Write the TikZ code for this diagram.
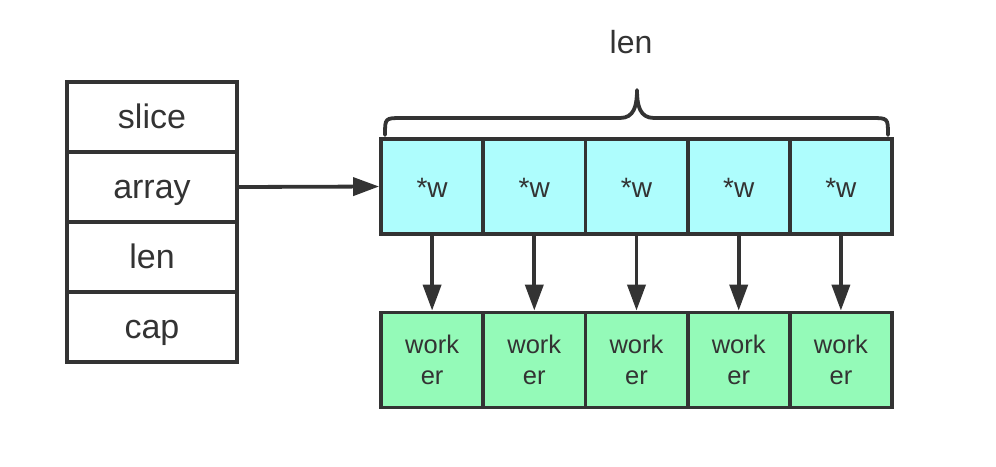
\documentclass[tikz,border=0pt]{standalone}
\usepackage{fontspec}
\setmainfont{Liberation Sans}
\usetikzlibrary{arrows.meta}
\definecolor{ink}{HTML}{333333}
\definecolor{ptrfill}{HTML}{AEFDFD}
\definecolor{wkfill}{HTML}{94FAB8}
\begin{document}
\begin{tikzpicture}[x=1pt,y=-1pt,
  cellbox/.style={draw=ink, line width=3.8pt, inner sep=0pt, text=ink},
  hdrbox/.style={cellbox, minimum width=170pt, minimum height=70pt,
    font=\fontsize{34pt}{38pt}\selectfont, text height=24pt, text depth=2pt},
  ptrbox/.style={cellbox, fill=ptrfill, minimum width=102.2pt, minimum height=95pt,
    font=\fontsize{28pt}{32pt}\selectfont, text height=24pt, text depth=2pt},
  wkbox/.style={cellbox, fill=wkfill, minimum width=102.2pt, minimum height=95pt,
    font=\fontsize{25.5pt}{30.5pt}\selectfont, align=center},
  link/.style={draw=ink, line width=3.8pt, -{Triangle[length=26pt,width=18pt]}}
]
\useasboundingbox (0,0) rectangle (996,466);
% left header stack
\node[hdrbox] (slice) at (152,117) {slice};
\node[hdrbox] (arr)   at (152,187) {array};
\node[hdrbox] (lenf)  at (152,257) {len};
\node[hdrbox] (capf)  at (152,327) {cap};
% pointer array and workers
\foreach \i in {0,...,4} {
  \pgfmathsetmacro{\cx}{381+102.2*(\i+0.5)}
  \node[ptrbox] (p\i) at (\cx,186.5) {*w};
  \node[wkbox]  (w\i) at (\cx,360) {work\\er};
}
\foreach \i in {0,...,4} {
  \draw[link] (p\i.south) -- (w\i.north);
}
\draw[link] (arr.east) -- (p0.west);
% brace
\coordinate (bl) at (385,135);
\coordinate (br) at (888,135);
\coordinate (bt) at (637,90);
\draw[ink, line width=3.8pt, line cap=round, line join=round]
  (bl) .. controls (385,118) .. (402,118) -- (620,118)
  .. controls (634,118) and (637,106) .. (bt)
  .. controls (637,106) and (640,118) .. (654,118) -- (871,118)
  .. controls (888,118) .. (br);
\node[text=ink, font=\fontsize{32pt}{36pt}\selectfont, anchor=base, inner sep=0pt] (lenlbl) at (631,53) {len};
\end{tikzpicture}
\end{document}
